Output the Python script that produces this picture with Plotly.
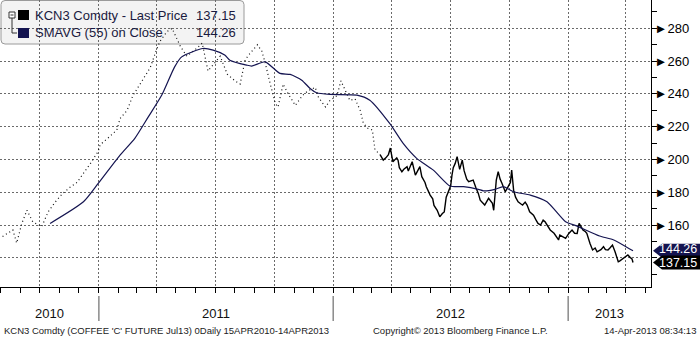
import datetime as _dt
import plotly.graph_objects as go

# ------------------------------------------------------------------ data
# early, thinly traded part of the contract (shown dotted)
early_dates = [
    "2010-08-04", "2010-08-20", "2010-08-26", "2010-09-03", "2010-09-11", "2010-09-20",
    "2010-10-04", "2010-10-14", "2010-10-25", "2010-11-05", "2010-11-17", "2010-11-28",
    "2010-12-07", "2010-12-18", "2010-12-31", "2011-01-03", "2011-01-15", "2011-01-29",
    "2011-02-03", "2011-02-14", "2011-02-23", "2011-03-11", "2011-03-22", "2011-03-30",
    "2011-04-06", "2011-04-17", "2011-04-25", "2011-05-08", "2011-05-18", "2011-06-03",
    "2011-06-11", "2011-06-20", "2011-07-09", "2011-07-20", "2011-08-01", "2011-08-09",
    "2011-08-17", "2011-08-25", "2011-09-05", "2011-09-12", "2011-09-17", "2011-09-25",
    "2011-10-03", "2011-10-07", "2011-10-15", "2011-10-23", "2011-11-03", "2011-11-14",
    "2011-11-23", "2011-12-04", "2011-12-09", "2011-12-20", "2011-12-27", "2012-01-07",
    "2012-01-13", "2012-01-20", "2012-01-27", "2012-02-04", "2012-02-09", "2012-02-12",
    "2012-02-17", "2012-02-24", "2012-03-02", "2012-03-06", "2012-03-14",
]
early_vals = [
    153, 157, 149, 161, 169, 162,
    159, 168, 174, 179, 183, 186,
    191, 197, 205, 209, 213, 218,
    225, 230, 239, 249, 256, 265,
    272, 278, 280, 269, 263, 268,
    271, 254, 263, 252, 248, 246,
    261, 265, 270, 266, 259, 246,
    234, 232, 246, 240, 233, 239,
    242, 244, 238, 232, 236, 239,
    248, 242, 236, 237, 233, 230,
    222, 219, 218, 206, 203,
]

# liquid part of the contract (solid line)
price_dates = [
    "2012-03-14", "2012-03-19", "2012-03-23", "2012-03-27", "2012-03-30", "2012-04-03",
    "2012-04-09", "2012-04-11", "2012-04-13", "2012-04-17", "2012-04-20", "2012-04-25",
    "2012-04-27", "2012-05-03", "2012-05-08", "2012-05-11", "2012-05-15", "2012-05-18",
    "2012-05-23", "2012-05-25", "2012-05-31", "2012-06-04", "2012-06-06", "2012-06-11",
    "2012-06-15", "2012-06-19", "2012-06-22", "2012-06-25", "2012-06-28", "2012-07-02",
    "2012-07-04", "2012-07-06", "2012-07-09", "2012-07-12", "2012-07-16", "2012-07-17",
    "2012-07-20", "2012-07-23", "2012-07-25", "2012-07-27", "2012-07-30", "2012-08-03",
    "2012-08-06", "2012-08-10", "2012-08-14", "2012-08-17", "2012-08-22", "2012-08-24",
    "2012-08-30", "2012-09-04", "2012-09-05", "2012-09-07", "2012-09-11", "2012-09-14",
    "2012-09-17", "2012-09-20", "2012-09-25", "2012-09-28", "2012-10-03", "2012-10-05",
    "2012-10-08", "2012-10-11", "2012-10-15", "2012-10-19", "2012-10-22", "2012-10-26",
    "2012-10-29", "2012-11-02", "2012-11-08", "2012-11-12", "2012-11-15", "2012-11-19",
    "2012-11-23", "2012-11-26", "2012-11-30", "2012-12-04", "2012-12-10", "2012-12-12",
    "2012-12-17", "2012-12-19", "2012-12-24", "2012-12-28", "2013-01-02", "2013-01-07",
    "2013-01-11", "2013-01-15", "2013-01-18", "2013-01-22", "2013-01-24", "2013-01-28",
    "2013-01-30", "2013-02-04", "2013-02-08", "2013-02-12", "2013-02-15", "2013-02-21",
    "2013-02-25", "2013-02-28", "2013-03-04", "2013-03-07", "2013-03-11", "2013-03-15",
    "2013-03-20", "2013-03-22", "2013-03-28", "2013-04-01", "2013-04-04", "2013-04-08",
    "2013-04-10", "2013-04-11", "2013-04-12",
]
price_vals = [
    203, 199.6, 201, 203, 207, 198.6,
    201, 199.6, 195, 192.5, 194, 195.6,
    193, 198.6, 190.5, 193, 195.6, 189.5,
    186, 183.4, 178.3, 176, 172, 169,
    165, 167, 168, 177, 180, 184,
    190.5, 195, 197.6, 201.7, 194, 195.6,
    199.6, 193, 189.5, 188, 186.4, 187,
    187.4, 183, 179.3, 175.2, 173, 172.2,
    176.3, 174, 173.2, 169, 187.4, 192.5,
    188, 185.4, 180.3, 182.4, 186, 193.5,
    181.3, 177, 174.2, 173, 172.2, 174,
    172.2, 168.1, 166, 163, 161, 160,
    163, 162, 159, 157, 155, 153.9,
    150.9, 153.9, 152.9, 151.9, 154.9, 157,
    155, 154.9, 161, 158, 157, 155.9,
    154.9, 148.8, 144.8, 146, 143.7, 145,
    146.8, 145, 144.8, 146, 147.8, 143.7,
    137.6, 138, 139.6, 141, 141.7, 140,
    139.6, 138.5, 137.15,
]

# 55-day simple moving average
sma_dates = [
    "2010-10-17", "2010-12-08", "2010-12-31", "2011-02-03", "2011-02-26", "2011-03-19",
    "2011-04-09", "2011-04-29", "2011-05-10", "2011-06-12", "2011-06-28", "2011-07-16",
    "2011-07-24", "2011-08-19", "2011-08-27", "2011-09-17", "2011-10-10", "2011-10-26",
    "2011-11-13", "2011-11-26", "2011-12-06", "2011-12-27", "2012-02-07", "2012-02-27",
    "2012-03-29", "2012-04-19", "2012-05-10", "2012-06-05", "2012-07-01", "2012-07-22",
    "2012-08-14", "2012-08-22", "2012-09-09", "2012-09-22", "2012-10-08", "2012-11-03",
    "2012-11-29", "2012-12-28", "2013-01-14", "2013-02-19", "2013-03-13", "2013-04-12",
]
sma_vals = [
    161, 174.2, 185.4, 202.7, 212.9, 226,
    239.3, 256.5, 262.6, 267.7, 266.7, 263.7,
    260.6, 257.6, 257, 259.6, 252.5, 251.9,
    248.4, 243.3, 240.7, 239.7, 239.3, 236.2,
    222, 209.8, 200.7, 193.5, 183.8, 183.4,
    181.8, 180.9, 181.8, 183.4, 180.3, 178.3,
    174.2, 162, 159.5, 153.3, 150.9, 144.26,
]

last_price = 137.15
last_sma = 144.26
y_tick_vals = [140, 160, 180, 200, 220, 240, 260, 280]
year_labels = ["2010", "2011", "2012", "2013"]
x_range = ["2010-07-31", "2013-05-10"]
y_range = [122.2, 297.3]

legend_rows = ["KCN3 Comdty - Last Price", "SMAVG (55) on Close"]
footer_left = "KCN3 Comdty (COFFEE 'C' FUTURE Jul13) 0Daily 15APR2010-14APR2013"
footer_mid = "Copyright\u00a9 2013 Bloomberg Finance L.P."
footer_right = "14-Apr-2013 08:34:13"

# ------------------------------------------------------------------ layout helpers
W, H = 700, 337
ML, MR, MT, MB = 0, 49, 0, 50
PW, PH = W - ML - MR, H - MT - MB
FONT = "Liberation Sans, Arial, DejaVu Sans, sans-serif"
NAVY = "#141450"
TXT = "#1a1a40"


def px(x):
    return (x - ML) / PW


def py(y):
    return 1 - (y - MT) / PH


def val_per_px():
    return (y_range[1] - y_range[0]) / PH


fig = go.Figure()

fig.add_trace(go.Scatter(
    x=early_dates, y=early_vals, mode="lines",
    line=dict(color="#111111", width=1.2, dash="1px,3px"),
    hoverinfo="skip", showlegend=False))
fig.add_trace(go.Scatter(
    x=price_dates, y=price_vals, mode="lines",
    line=dict(color="#000000", width=1.4),
    showlegend=False))
fig.add_trace(go.Scatter(
    x=sma_dates, y=sma_vals, mode="lines",
    line=dict(color=NAVY, width=1.2, shape="spline", smoothing=0.6),
    showlegend=False))

shapes = []
annotations = []

# legend box (drawn above grid, below data)
lx0, lx1, ly0, ly1, r = 1, 244, 0.5, 44, 4
path = (f"M {px(lx0 + r)},{py(ly0)} L {px(lx1 - r)},{py(ly0)} "
        f"Q {px(lx1)},{py(ly0)} {px(lx1)},{py(ly0 + r)} L {px(lx1)},{py(ly1 - r)} "
        f"Q {px(lx1)},{py(ly1)} {px(lx1 - r)},{py(ly1)} L {px(lx0 + r)},{py(ly1)} "
        f"Q {px(lx0)},{py(ly1)} {px(lx0)},{py(ly1 - r)} L {px(lx0)},{py(ly0 + r)} "
        f"Q {px(lx0)},{py(ly0)} {px(lx0 + r)},{py(ly0)} Z")
shapes.append(dict(type="path", xref="paper", yref="paper", path=path,
                   fillcolor="#f3f3f3", line=dict(color="#9a9a9a", width=1),
                   layer="between"))
# tree icon
shapes.append(dict(type="rect", xref="paper", yref="paper",
                   x0=px(9), x1=px(15), y0=py(12), y1=py(18),
                   line=dict(color="#333333", width=1), fillcolor="#ffffff"))
shapes.append(dict(type="line", xref="paper", yref="paper",
                   x0=px(10.5), x1=px(13.5), y0=py(15), y1=py(15),
                   line=dict(color="#333333", width=1)))
shapes.append(dict(type="line", xref="paper", yref="paper",
                   x0=px(12), x1=px(12), y0=py(18), y1=py(33),
                   line=dict(color="#333333", width=1)))
shapes.append(dict(type="line", xref="paper", yref="paper",
                   x0=px(12), x1=px(17), y0=py(33), y1=py(33),
                   line=dict(color="#333333", width=1)))
# colour squares
for row_y, col in ((15, "#000000"), (33, NAVY)):
    shapes.append(dict(type="rect", xref="paper", yref="paper",
                       x0=px(18), x1=px(29), y0=py(row_y - 5), y1=py(row_y + 5),
                       line=dict(width=0), fillcolor=col))
for row_y, label, v in ((15, legend_rows[0], last_price), (33, legend_rows[1], last_sma)):
    annotations.append(dict(xref="paper", yref="paper", x=px(33), y=py(row_y),
                            xanchor="left", yanchor="middle", showarrow=False,
                            text=label, font=dict(family=FONT, size=13, color=TXT)))
    annotations.append(dict(xref="paper", yref="paper", x=px(238), y=py(row_y),
                            xanchor="right", yanchor="middle", showarrow=False,
                            text=f"{v:.2f}", font=dict(family=FONT, size=13, color=TXT)))

# year separators and labels on the time axis
x0d, x1d = x_range
for yr in year_labels:
    start = f"{yr}-01-01"
    end = f"{int(yr) + 1}-01-01"
    sd = _dt.date.fromisoformat(max(start, x0d))
    ed = _dt.date.fromisoformat(min(end, x1d))
    mid = sd + (ed - sd) / 2
    annotations.append(dict(xref="x", yref="paper", x=mid.isoformat(), y=py(313),
                            xanchor="center", yanchor="middle", showarrow=False,
                            text=yr, font=dict(family=FONT, size=13, color="#111111")))
    if start > x0d:
        shapes.append(dict(type="line", xref="x", yref="paper", x0=start, x1=start,
                           y0=py(296), y1=py(321),
                           line=dict(color="#8a8a8a", width=1.5)))

# last-value tags on the right axis
vpp = val_per_px()
for v, col, shift in ((last_sma, NAVY, 2), (last_price, "#000000", 0)):
    h = 7 * vpp
    tag = (f"M {px(PW + 2)},{v} L {px(PW + 11)},{v + h} L {px(W)},{v + h} "
           f"L {px(W)},{v - h} L {px(PW + 11)},{v - h} Z")
    shapes.append(dict(type="path", xref="paper", yref="y", path=tag,
                       fillcolor=col, line=dict(width=0), layer="above"))
    annotations.append(dict(xref="paper", yref="y", x=px(W - 1), y=v, yshift=shift,
                            xanchor="right", yanchor="middle", showarrow=False,
                            text=f"{v:.2f}", font=dict(family=FONT, size=12.5, color="#ffffff")))

# footer
for txt, xx, anc in ((footer_left, 2, "left"), (footer_mid, 460, "center"),
                     (footer_right, 698, "right")):
    annotations.append(dict(xref="paper", yref="paper", x=px(xx), y=py(330),
                            xanchor=anc, yanchor="middle", showarrow=False, text=txt,
                            font=dict(family=FONT, size=9.5, color="#222222")))

tick_text = ["" if t < 150 else f"\u25ba{t}" for t in y_tick_vals]

fig.update_layout(
    width=W, height=H,
    margin=dict(l=ML, r=MR, t=MT, b=MB),
    paper_bgcolor="#ffffff", plot_bgcolor="#ffffff",
    showlegend=False,
    shapes=shapes, annotations=annotations,
    xaxis=dict(
        type="date", range=x_range, showticklabels=False,
        tick0="2010-01-01", dtick="M3",
        ticks="outside", ticklen=5, tickcolor="#000000",
        showgrid=True, gridcolor="#6a6a6a", griddash="2px,2px", gridwidth=1,
        showline=True, linecolor="#000000", linewidth=1,
        zeroline=False, fixedrange=True,
        minor=dict(dtick="M1", tick0="2010-01-01", ticks="outside", ticklen=5,
                   tickcolor="#000000", showgrid=False),
    ),
    yaxis=dict(
        side="right", range=y_range,
        tickmode="array", tickvals=y_tick_vals, ticktext=tick_text,
        ticks="", ticklabelstandoff=0,
        tickfont=dict(family=FONT, size=13, color="#000000"),
        showgrid=True, gridcolor="#6a6a6a", griddash="2px,2px", gridwidth=1,
        showline=True, linecolor="#000000", linewidth=1,
        zeroline=False, fixedrange=True,
        minor=dict(dtick=10, tick0=0, ticks="outside", ticklen=5,
                   tickcolor="#000000", showgrid=False),
    ),
)

fig.write_html("out.html")
